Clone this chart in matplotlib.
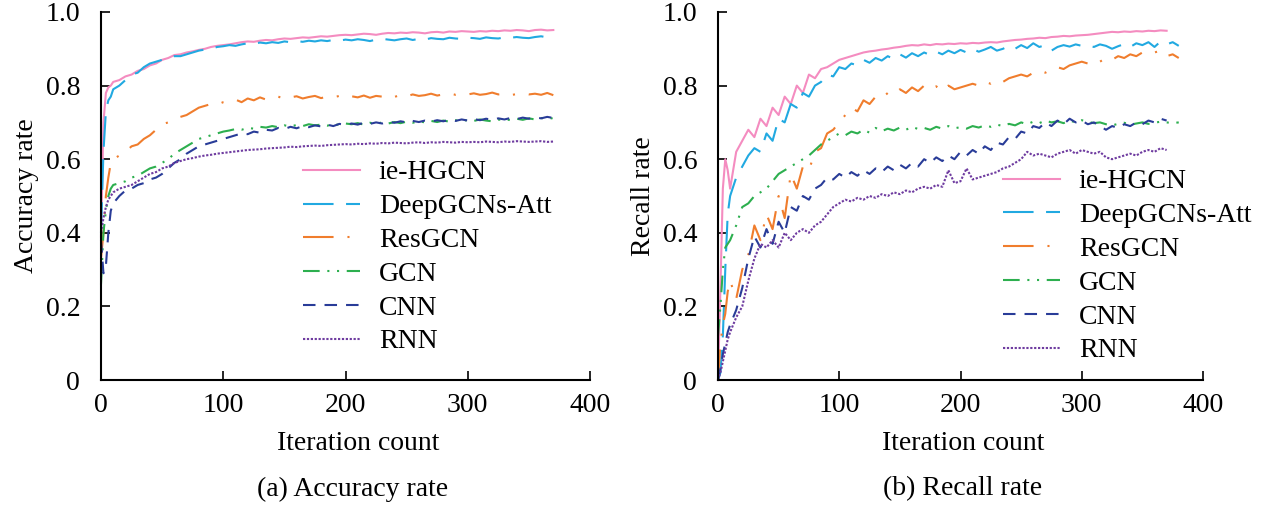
import matplotlib
matplotlib.use("Agg")
import matplotlib.pyplot as plt
from matplotlib.ticker import FixedLocator, FixedFormatter

plt.rcParams['font.family'] = ['Liberation Serif', 'DejaVu Serif']
plt.rcParams['lines.scale_dashes'] = False

# iteration grid (shared); some recall series run a little longer
iters = [0, 2, 4, 6, 8, 10] + list(range(15, 375, 5))
iters_long = iters + [375, 380]

labels = ['ie-HGCN', 'DeepGCNs-Att', 'ResGCN', 'GCN', 'CNN', 'RNN']

# ---------------- (a) accuracy rate ----------------
acc_hgcn = [0.39, 0.70, 0.78, 0.795, 0.80, 0.81,
            .815, .825, .83, .84, .845, .855, .86, .87, .875, .883, .885, .89, .893, .897, .90, .905, .908, .91,
            .912, .915, .918, .92, .919, .922, .924, .923, .926, .928, .927, .929, .931, .93, .932, .934, .933, .935, .937, .938,
            .937, .939, .941, .94, .938, .941, .943, .942, .944, .943, .945, .944, .942, .945, .946, .944, .947, .946, .948, .947,
            .946, .948, .947, .949, .948, .950, .949, .951, .950, .948, .951, .952, .950, .951]
acc_deep = [0.40, 0.62, 0.73, 0.76, 0.77, 0.79,
            .80, .815, .83, .835, .85, .86, .865, .87, .875, .88, .88, .885, .89, .895, .898, .90, .905, .907,
            .91, .908, .912, .915, .913, .917, .915, .918, .916, .92, .918, .921, .919, .922, .92, .923, .921, .924, .922, .925,
            .923, .926, .924, .921, .925, .927, .925, .923, .926, .928, .924, .927, .925, .929, .927, .926, .93, .928, .927, .93,
            .929, .927, .931, .929, .928, .931, .93, .932, .93, .929, .932, .934, .931, .933]
acc_res = [0.33, 0.40, 0.50, 0.55, 0.59, 0.60,
           .61, .62, .635, .64, .655, .665, .68, .695, .70, .71, .715, .72, .73, .74, .745, .75, .748, .755,
           .758, .762, .755, .765, .76, .768, .762, .766, .77, .764, .768, .771, .765, .769, .772, .766, .77, .768, .772, .767,
           .771, .768, .773, .767, .772, .77, .774, .769, .775, .771, .776, .772, .774, .778, .773, .776, .779, .775, .778, .776,
           .779, .775, .777, .781, .776, .778, .774, .777, .779, .776, .778, .775, .78, .774]
acc_gcn = [0.26, 0.40, 0.46, 0.50, 0.52, 0.53,
           .535, .54, .55, .555, .565, .575, .58, .59, .60, .615, .625, .635, .645, .655, .66, .665, .67, .675,
           .678, .682, .68, .685, .683, .688, .686, .69, .687, .692, .689, .693, .69, .695, .692, .694, .691, .696, .693, .697,
           .695, .698, .694, .699, .696, .70, .697, .701, .698, .702, .699, .703, .70, .704, .701, .705, .702, .706, .703, .707,
           .704, .708, .705, .703, .707, .709, .706, .71, .707, .711, .708, .712, .709, .712]
acc_cnn = [0.38, 0.29, 0.31, 0.40, 0.46, 0.48,
           .50, .515, .52, .53, .535, .545, .55, .56, .575, .59, .60, .615, .625, .635, .64, .645, .65, .655,
           .66, .665, .67, .668, .675, .672, .68, .678, .685, .682, .688, .684, .69, .687, .692, .689, .694, .69, .696, .693,
           .697, .694, .699, .696, .70, .697, .702, .699, .703, .70, .704, .701, .705, .702, .706, .703, .707, .704, .708, .705,
           .709, .706, .71, .707, .711, .708, .712, .709, .713, .71, .714, .711, .715, .712]
acc_rnn = [0.40, 0.44, 0.47, 0.49, 0.50, 0.51,
           .52, .525, .53, .54, .55, .56, .565, .575, .58, .59, .595, .60, .603, .607, .61, .612, .615, .617,
           .619, .621, .623, .625, .626, .627, .629, .63, .631, .632, .634, .633, .635, .636, .637, .636, .638, .639, .64, .641,
           .64, .642, .641, .643, .642, .644, .643, .645, .644, .643, .645, .646, .644, .646, .645, .647, .646, .645, .647, .646,
           .647, .646, .648, .647, .646, .648, .647, .649, .648, .647, .648, .649, .647, .648]

# ---------------- (b) recall rate ----------------
rec_hgcn = [0.0, 0.25, 0.52, 0.60, 0.57, 0.52,
            .62, .65, .68, .66, .71, .69, .74, .72, .77, .75, .80, .78, .83, .82, .845, .85, .86, .87,
            .875, .88, .885, .89, .893, .895, .898, .90, .903, .905, .908, .91, .909, .912, .91, .913, .912, .914, .913, .915,
            .914, .916, .915, .917, .918, .917, .92, .922, .924, .925, .927, .928, .93, .929, .932, .933, .935, .934, .936, .937,
            .938, .94, .942, .944, .946, .945, .947, .946, .948, .947, .949, .948, .950, .949]
rec_deep = [0.0, 0.02, 0.12, 0.30, 0.45, 0.50,
            .55, .58, .61, .63, .62, .67, .65, .71, .70, .75, .74, .78, .77, .80, .81, .83, .825, .85,
            .845, .86, .855, .87, .862, .875, .868, .88, .872, .885, .876, .888, .88, .89, .883, .892, .885, .895, .888, .897,
            .89, .90, .892, .898, .905, .895, .90, .908, .90, .91, .902, .915, .905, .91, .895, .905, .91, .906, .912, .908,
            .91, .905, .912, .908, .90, .907, .913, .905, .915, .91, .918, .905, .92, .912,
            .918, .908]
rec_res = [0.0, 0.10, 0.15, 0.18, 0.24, 0.27,
           .22, .30, .34, .42, .38, .45, .41, .50, .44, .56, .52, .58, .57, .62, .63, .67, .68, .70,
           .72, .74, .73, .76, .75, .77, .765, .78, .775, .79, .78, .795, .785, .80, .79, .798, .785, .80, .79, .795,
           .80, .805, .80, .81, .805, .815, .81, .82, .825, .83, .825, .835, .84, .835, .845, .85, .845, .855, .86, .865,
           .86, .87, .865, .875, .87, .88, .875, .885, .88, .89, .885, .89, .895, .88,
           .885, .875]
rec_gcn = [0.12, 0.20, 0.30, 0.36, 0.37, 0.38,
           .42, .47, .48, .50, .51, .52, .54, .56, .57, .58, .59, .60, .61, .625, .64, .65, .66, .67,
           .665, .675, .67, .68, .672, .685, .676, .683, .678, .686, .68, .688, .682, .685, .68, .688, .683, .69, .684, .687,
           .683, .69, .686, .692, .688, .694, .69, .696, .692, .70, .695, .702, .698, .705, .70, .703, .698, .705, .70, .706,
           .702, .698, .70, .695, .692, .696, .699, .694, .697, .70, .696, .699, .702, .70,
           .698, .70]
rec_cnn = [0.0, 0.03, 0.07, 0.10, 0.13, 0.15,
           .19, .25, .33, .39, .36, .41, .37, .43, .40, .47, .46, .50, .49, .52, .53, .55, .545, .56,
           .55, .565, .555, .57, .56, .575, .565, .58, .57, .585, .575, .59, .58, .60, .59, .605, .595, .61, .60, .62,
           .61, .625, .615, .635, .625, .645, .64, .66, .655, .675, .67, .69, .685, .70, .69, .705, .695, .71, .70, .705,
           .695, .70, .69, .68, .69, .685, .695, .69, .70, .695, .705, .70, .71, .705]
rec_rnn = [0.0, 0.02, 0.05, 0.08, 0.11, 0.13,
           .17, .20, .27, .33, .37, .36, .38, .36, .40, .38, .40, .41, .40, .42, .43, .45, .47, .48,
           .49, .485, .495, .49, .50, .495, .505, .50, .51, .505, .515, .51, .52, .525, .52, .53, .525, .57, .535, .54,
           .575, .545, .55, .555, .56, .565, .575, .58, .59, .60, .62, .61, .615, .61, .605, .615, .62, .625, .615, .625,
           .62, .615, .62, .605, .60, .605, .61, .615, .61, .62, .625, .62, .63, .625]

colors = ['#f48cc0', '#21a9e1', '#f07d2d', '#2daf4f', '#293c98', '#6f3ca0']
dashes = [None, (22, 9), (22, 10, 1.5, 10), (12, 5.5, 1.5, 5.5, 1.5, 5.5), (9, 6.5), (1.6, 1.2)]

fig = plt.figure(figsize=(12.64, 5.07), dpi=100)
ax1 = fig.add_axes([101 / 1264, 127 / 507, 489 / 1264, 368 / 507])
ax2 = fig.add_axes([718 / 1264, 127 / 507, 485 / 1264, 368 / 507])

acc_series = [(iters, acc_hgcn), (iters, acc_deep), (iters, acc_res),
              (iters, acc_gcn), (iters, acc_cnn), (iters, acc_rnn)]
rec_series = [(iters, rec_hgcn), (iters_long, rec_deep), (iters_long, rec_res),
              (iters_long, rec_gcn), (iters, rec_cnn), (iters, rec_rnn)]

for ax, series in ((ax1, acc_series), (ax2, rec_series)):
    for (xs, ys), lab, c, d in zip(series, labels, colors, dashes):
        line, = ax.plot(xs, ys, color=c, lw=1.5, label=lab, clip_on=False)
        if d is not None:
            line.set_dashes(d)

for ax, ylab, xlab_x in ((ax1, 'Accuracy rate', 0.526), (ax2, 'Recall rate', 0.505)):
    ax.set_xlim(0, 400)
    ax.set_ylim(0, 1.0)
    ax.spines['top'].set_visible(False)
    ax.spines['right'].set_visible(False)
    ax.spines['left'].set_linewidth(1.5)
    ax.spines['bottom'].set_linewidth(1.5)
    ax.xaxis.set_major_locator(FixedLocator([0, 100, 200, 300, 400]))
    ax.yaxis.set_major_locator(FixedLocator([0, 0.2, 0.4, 0.6, 0.8, 1.0]))
    ax.yaxis.set_major_formatter(FixedFormatter(['0', '0.2', '0.4', '0.6', '0.8', '1.0']))
    ax.tick_params(axis='both', direction='in', length=6.5, width=1.2, labelsize=20)
    ax.tick_params(axis='y', pad=15)
    ax.tick_params(axis='x', pad=9)
    ax.set_xlabel('Iteration count', fontsize=20, va='center')
    ax.xaxis.set_label_coords(xlab_x, -0.172)
    ax.set_ylabel(ylab, fontsize=20, labelpad=5)

leg_kw = dict(loc='upper left', frameon=False, fontsize=20, borderpad=0, borderaxespad=0,
              handlelength=2.05, handletextpad=0.68, labelspacing=0.3)
ax1.legend(bbox_to_anchor=(303 / 1264, 1 - 160 / 507), bbox_transform=fig.transFigure, **leg_kw)
ax2.legend(bbox_to_anchor=(1003 / 1264, 1 - 169 / 507), bbox_transform=fig.transFigure, **leg_kw)

fig.text(353 / 1264, 1 - 489 / 507, '(a) Accuracy rate', fontsize=20, ha='center', va='center')
fig.text(963 / 1264, 1 - 489 / 507, '(b) Recall rate', fontsize=20, ha='center', va='center')

fig.savefig('out.png', dpi=100)
